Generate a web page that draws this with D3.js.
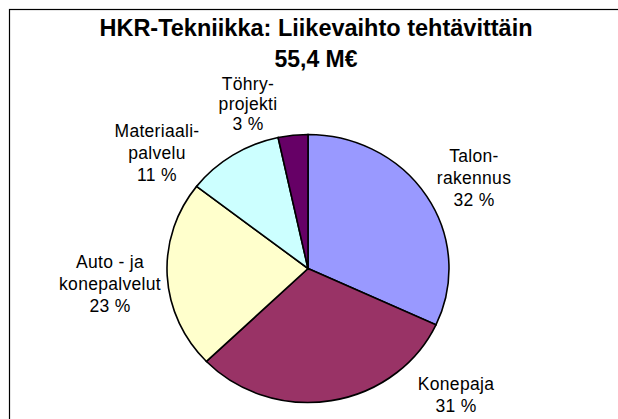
<!DOCTYPE html>
<html>
<head>
<meta charset="utf-8">
<script src="https://cdn.jsdelivr.net/npm/d3@7"></script>
<style>
  body { margin: 0; background: #fff; }
  text { font-family: "Liberation Sans", Arial, sans-serif; fill: #000; }
</style>
</head>
<body>
<div id="chart"></div>
<script>
// data
let categories = ['Talon-\nrakennus', 'Konepaja', 'Auto - ja\nkonepalvelut', 'Materiaali-\npalvelu', 'Töhry-\nprojekti'];
let values = [31.9, 30.9, 22.7, 11.1, 3.4];
let colors = ['#9999ff', '#993366', '#ffffcc', '#ccffff', '#660066'];
let titleLines = ['HKR-Tekniikka: Liikevaihto tehtävittäin', '55,4 M€'];

// where each label block sits, relative to the pie centre (first baseline)
let labelOffset = [[166, -107], [148, 121], [-198, -1], [-151, -132], [-60, -179]];
let labelLineHeight = [22, 22, 22, 22, 20];

let width = 618;
let height = 419;
let cx = 308, cy = 268.5;
let rx = 141, ry = 134;

let svg = d3.select('#chart')
  .append('svg')
  .attr('width', width)
  .attr('height', height);

// chart frame, runs off the right and bottom edge
svg.append('rect')
  .attr('x', 9.5)
  .attr('y', 9.5)
  .attr('width', 640)
  .attr('height', 440)
  .attr('fill', 'none')
  .attr('stroke', '#000')
  .attr('stroke-width', 1.2);

svg.append('text')
  .attr('x', 316)
  .attr('y', 36)
  .attr('text-anchor', 'middle')
  .style('font-weight', 'bold')
  .style('font-size', '23.5px')
  .text(titleLines[0]);

svg.append('text')
  .attr('x', 316)
  .attr('y', 67)
  .attr('text-anchor', 'middle')
  .style('font-weight', 'bold')
  .style('font-size', '23px')
  .text(titleLines[1]);

let pie = d3.pie().sort(null).value(d => d);
let arcs = pie(values);

let arc = d3.arc()
  .innerRadius(0)
  .outerRadius(ry);

let g = svg.append('g')
  .attr('transform', 'translate(' + cx + ',' + cy + ') scale(' + (rx / ry) + ',1)');

g.selectAll('path')
  .data(arcs)
  .enter()
  .append('path')
  .attr('d', arc)
  .attr('fill', (d, i) => colors[i])
  .attr('stroke', '#000')
  .attr('stroke-width', 1.6)
  .attr('vector-effect', 'non-scaling-stroke');

let total = d3.sum(values);

let labels = svg.selectAll('.label')
  .data(arcs)
  .enter()
  .append('text')
  .attr('class', 'label')
  .attr('text-anchor', 'middle')
  .style('font-size', '17.5px')
  .style('letter-spacing', '0.3px')
  .attr('transform', (d, i) => 'translate(' + (cx + labelOffset[i][0]) + ',' + (cy + labelOffset[i][1]) + ')');

labels.each(function(d, i) {
  let lines = categories[i].split('\n');
  lines.push(Math.round(d.value / total * 100) + ' %');
  d3.select(this).selectAll('tspan')
    .data(lines)
    .enter()
    .append('tspan')
    .attr('x', 0)
    .attr('y', (l, j) => j * labelLineHeight[i])
    .text(l => l);
});
</script>
</body>
</html>
